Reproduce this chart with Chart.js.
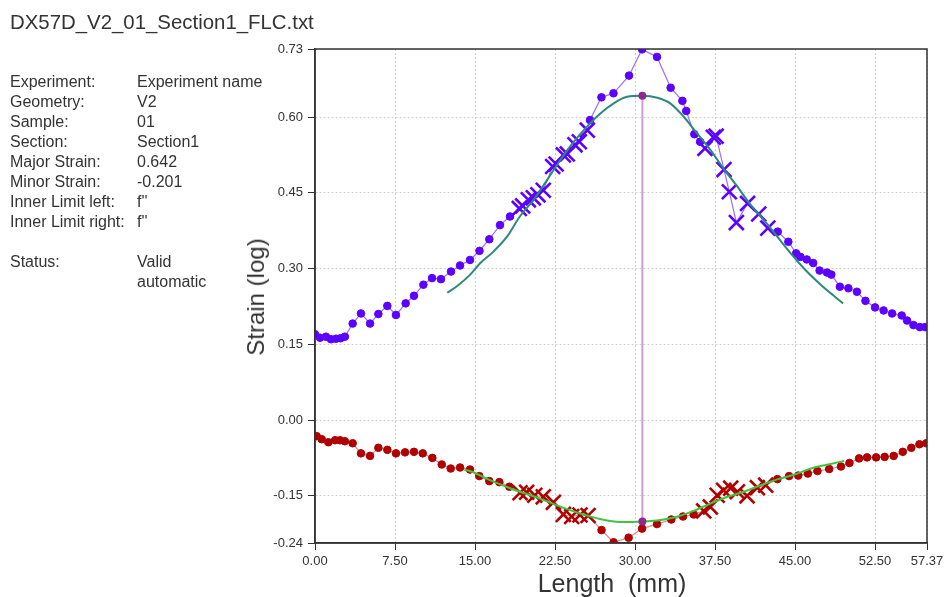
<!DOCTYPE html>
<html>
<head>
<meta charset="utf-8">
<script src="https://cdn.jsdelivr.net/npm/chart.js@4/dist/chart.umd.min.js"></script>
<style>
  html, body { margin: 0; padding: 0; background: #fff; }
  body { width: 944px; height: 597px; position: relative; overflow: hidden;
         font-family: "Liberation Sans", Arial, sans-serif; color: #333; }
  #chart { position: absolute; left: 0; top: 0; }
  .title { position: absolute; left: 10px; top: 9px; font-size: 20.4px; line-height: 26px; white-space: nowrap; }
  .info { position: absolute; left: 10px; top: 72px; font-size: 16px; line-height: 20px; }
  .row { position: relative; height: 20px; white-space: nowrap; }
  .row .k { position: absolute; left: 0; }
  .row .v { position: absolute; left: 127px; }
  .ytitle { position: absolute; left: 256px; top: 297px; font-size: 24px; white-space: nowrap;
            transform: translate(-50%, -50%) rotate(-90deg); }
  .xtitle { position: absolute; left: 612px; top: 583px; font-size: 25px; white-space: pre;
            transform: translate(-50%, -50%); }
</style>
</head>
<body>
<canvas id="chart" width="944" height="597"></canvas>
<div class="title">DX57D_V2_01_Section1_FLC.txt</div>
<div class="info" id="info"></div>
<div class="ytitle">Strain (log)</div>
<div class="xtitle">Length  (mm)</div>
<script>
// Major strain profile along the section (length in mm, log strain)
const majorLength = [0.00, 0.47, 1.03, 1.50, 1.97, 2.40, 2.80, 3.53, 4.31, 5.16, 5.94, 6.78, 7.59, 8.50, 9.28,
  10.16, 10.97, 11.81, 12.75, 13.60, 14.53, 15.42, 16.34, 17.34, 18.28, 19.15, 19.47, 20.00, 20.47, 20.90,
  21.40, 22.28, 22.60, 23.28, 23.65, 24.37, 24.78, 25.53, 25.78, 26.85, 27.98, 29.44, 30.66, 32.06, 33.34,
  34.44, 34.80, 35.56, 36.10, 36.56, 37.34, 37.60, 38.34, 38.84, 39.50, 40.55, 41.60, 42.45, 43.38, 44.37,
  45.10, 45.50, 46.10, 46.70, 47.30, 48.00, 48.40, 49.20, 50.00, 50.80, 51.60, 52.50, 53.30, 54.10, 55.00,
  55.50, 56.10, 56.70, 57.20];
const majorStrain = [0.170, 0.163, 0.165, 0.160, 0.161, 0.162, 0.165, 0.191, 0.211, 0.191, 0.210, 0.226, 0.208, 0.231, 0.246,
  0.268, 0.281, 0.279, 0.294, 0.306, 0.317, 0.335, 0.358, 0.386, 0.403, 0.419, 0.424, 0.436, 0.440, 0.446,
  0.455, 0.502, 0.507, 0.525, 0.527, 0.545, 0.551, 0.574, 0.594, 0.639, 0.647, 0.682, 0.734, 0.719, 0.658,
  0.632, 0.612, 0.566, 0.551, 0.538, 0.560, 0.562, 0.496, 0.452, 0.391, 0.429, 0.408, 0.380, 0.373, 0.353,
  0.330, 0.323, 0.318, 0.311, 0.296, 0.292, 0.288, 0.264, 0.261, 0.254, 0.236, 0.223, 0.217, 0.211, 0.207,
  0.197, 0.188, 0.184, 0.184];

// Minor strain profile along the section
const minorLength = [0.16, 0.63, 1.25, 1.88, 2.34, 2.80, 3.53, 4.31, 5.16, 5.94, 6.78, 7.59, 8.44, 9.28, 10.10,
  11.00, 11.88, 12.72, 13.60, 14.53, 15.40, 16.34, 17.28, 18.22, 19.22, 19.84, 20.60, 21.40, 22.35, 23.28,
  24.06, 24.84, 25.60, 26.86, 27.99, 29.40, 30.66, 32.06, 33.40, 34.50, 35.50, 36.44, 37.06, 37.70, 38.30,
  38.97, 39.60, 40.50, 41.47, 42.25, 43.34, 44.44, 45.30, 46.20, 47.10, 48.20, 49.30, 50.10, 51.00, 51.75,
  52.60, 53.40, 54.25, 55.10, 55.90, 56.66, 57.30];
const minorStrain = [-0.032, -0.038, -0.044, -0.040, -0.040, -0.042, -0.046, -0.066, -0.071, -0.055, -0.059, -0.066, -0.064, -0.063, -0.066,
  -0.075, -0.088, -0.096, -0.094, -0.098, -0.111, -0.121, -0.123, -0.132, -0.144, -0.143, -0.149, -0.152, -0.163, -0.187,
  -0.191, -0.188, -0.189, -0.218, -0.242, -0.233, -0.215, -0.206, -0.197, -0.191, -0.187, -0.180, -0.172, -0.149, -0.139,
  -0.135, -0.142, -0.150, -0.134, -0.129, -0.117, -0.111, -0.110, -0.106, -0.101, -0.097, -0.092, -0.085, -0.076, -0.074,
  -0.074, -0.073, -0.071, -0.063, -0.055, -0.048, -0.046];

// Fitted curves through the inner-limit windows
const majorFitLength = [12.40, 13.30, 14.50, 15.50, 16.70, 18.00, 19.20, 20.50, 21.75, 23.00, 24.25, 25.50, 26.75, 28.00,
  29.25, 30.69, 32.10, 33.30, 34.55, 35.80, 37.06, 38.30, 39.60, 40.84, 42.10, 43.34, 44.60, 45.84, 47.10, 48.34, 49.50];
const majorFitStrain = [0.252, 0.265, 0.287, 0.311, 0.333, 0.363, 0.403, 0.436, 0.475, 0.515, 0.551, 0.581, 0.607, 0.627,
  0.640, 0.642, 0.638, 0.627, 0.601, 0.568, 0.535, 0.498, 0.462, 0.426, 0.396, 0.363, 0.330, 0.300, 0.274, 0.251, 0.231];
const minorFitLength = [14.00, 14.50, 16.40, 18.30, 21.40, 23.30, 25.20, 26.70, 28.60, 30.69, 32.40, 34.00, 35.50, 37.10,
  38.66, 40.20, 41.80, 43.40, 44.97, 46.50, 48.10, 49.60];
const minorFitStrain = [-0.099, -0.101, -0.119, -0.135, -0.158, -0.174, -0.187, -0.196, -0.202, -0.201, -0.198, -0.191, -0.180, -0.165,
  -0.152, -0.142, -0.129, -0.117, -0.108, -0.096, -0.088, -0.081];

// Evaluated section position and limit strains
const sectionPosition = 30.69;
const majorAtSection = 0.642;
const minorAtSection = -0.201;

// Inner-limit windows (mm) whose points are drawn with crosses
const majorWindows = [[19.1, 25.6], [36.4, 42.5]];
const minorWindows = [[19.1, 25.7], [36.3, 42.3]];

// Axis ticks
const xTickValues = [0, 7.5, 15, 22.5, 30, 37.5, 45, 52.5, 57.37];
const xTickLabels = ['0.00', '7.50', '15.00', '22.50', '30.00', '37.50', '45.00', '52.50', '57.37'];
const yTickValues = [-0.2435, -0.15, 0, 0.15, 0.30, 0.45, 0.60, 0.7347];
const yTickLabels = ['-0.24', '-0.15', '0.00', '0.15', '0.30', '0.45', '0.60', '0.73'];

// Info panel rows
const infoRows = [
  ['Experiment:', 'Experiment name'],
  ['Geometry:', 'V2'],
  ['Sample:', '01'],
  ['Section:', 'Section1'],
  ['Major Strain:', majorAtSection.toFixed(3)],
  ['Minor Strain:', minorAtSection.toFixed(3)],
  ['Inner Limit left:', 'f\'\''],
  ['Inner Limit right:', 'f\'\''],
  ['', ''],
  ['Status:', 'Valid'],
  ['', 'automatic']
];
const info = document.getElementById('info');
infoRows.forEach(([k, v]) => {
  const r = document.createElement('div');
  r.className = 'row';
  const a = document.createElement('span'); a.className = 'k'; a.textContent = k;
  const b = document.createElement('span'); b.className = 'v'; b.textContent = v;
  r.appendChild(a); r.appendChild(b); info.appendChild(r);
});

const pts = (xs, ys) => xs.map((x, i) => ({ x, y: ys[i] }));
const inWin = (wins, x) => wins.some(([a, b]) => x >= a && x <= b);

function profileDataset(xs, ys, wins, dotColor, lineColor) {
  return {
    data: pts(xs, ys),
    showLine: true,
    borderColor: lineColor,
    borderWidth: 1.2,
    pointBackgroundColor: dotColor,
    pointBorderColor: dotColor,
    pointStyle: c => inWin(wins, c.raw.x) ? 'crossRot' : 'circle',
    pointRadius: c => inWin(wins, c.raw.x) ? 10.5 : 3.8,
    pointBorderWidth: c => inWin(wins, c.raw.x) ? 2.6 : 1,
    order: 3
  };
}

const FONT = '"Liberation Sans", Arial, sans-serif';

const frame = {
  id: 'frame',
  afterDraw(chart) {
    const { ctx, chartArea: a } = chart;
    ctx.save();
    ctx.strokeStyle = '#333';
    ctx.lineWidth = 1.5;
    ctx.strokeRect(a.left, a.top, a.right - a.left, a.bottom - a.top);
    ctx.restore();
  }
};

new Chart(document.getElementById('chart'), {
  type: 'scatter',
  data: {
    datasets: [
      {
        data: [{ x: sectionPosition, y: majorAtSection }, { x: sectionPosition, y: minorAtSection }],
        showLine: true,
        borderColor: '#c99fd2',
        borderWidth: 2,
        pointRadius: 3,
        pointBackgroundColor: '#8e2a8e',
        pointBorderColor: '#8e2a8e',
        order: 0
      },
      {
        data: pts(majorFitLength, majorFitStrain),
        showLine: true,
        borderColor: '#2b8a7c',
        borderWidth: 2,
        pointRadius: 0,
        cubicInterpolationMode: 'monotone',
        order: 1
      },
      {
        data: pts(minorFitLength, minorFitStrain),
        showLine: true,
        borderColor: '#3fc43f',
        borderWidth: 2,
        pointRadius: 0,
        cubicInterpolationMode: 'monotone',
        order: 1
      },
      profileDataset(majorLength, majorStrain, majorWindows, '#5c00ff', '#9c6cff'),
      profileDataset(minorLength, minorStrain, minorWindows, '#b00000', '#d98a8a')
    ]
  },
  options: {
    responsive: false,
    animation: false,
    events: [],
    layout: { padding: { left: 240, right: 17, top: 49, bottom: 0 } },
    plugins: { legend: { display: false }, tooltip: { enabled: false } },
    scales: {
      x: {
        type: 'linear',
        min: xTickValues[0],
        max: xTickValues[xTickValues.length - 1],
        afterBuildTicks: s => { s.ticks = xTickValues.map(v => ({ value: v })); },
        afterFit: s => { s.height = 54; s.paddingLeft = 0; s.paddingRight = 0; },
        ticks: {
          autoSkip: false, maxRotation: 0, padding: 4, color: '#333',
          font: { family: FONT, size: 13 },
          callback: (v, i) => xTickLabels[i]
        },
        grid: { color: '#cfcfcf', lineWidth: 1, tickLength: 7, tickColor: '#333', tickWidth: 1 },
        border: { display: true, color: '#333', width: 1.5, dash: [2, 2] }
      },
      y: {
        type: 'linear',
        min: yTickValues[0],
        max: yTickValues[yTickValues.length - 1],
        afterBuildTicks: s => { s.ticks = yTickValues.map(v => ({ value: v })); },
        afterFit: s => { s.width = 75; s.paddingTop = 0; s.paddingBottom = 0; },
        ticks: {
          autoSkip: false, padding: 5, color: '#333',
          font: { family: FONT, size: 13 },
          callback: (v, i) => yTickLabels[i]
        },
        grid: { color: '#cfcfcf', lineWidth: 1, tickLength: 7, tickColor: '#333', tickWidth: 1 },
        border: { display: true, color: '#333', width: 1.5, dash: [2, 2] }
      }
    }
  },
  plugins: [frame]
});
</script>
</body>
</html>
